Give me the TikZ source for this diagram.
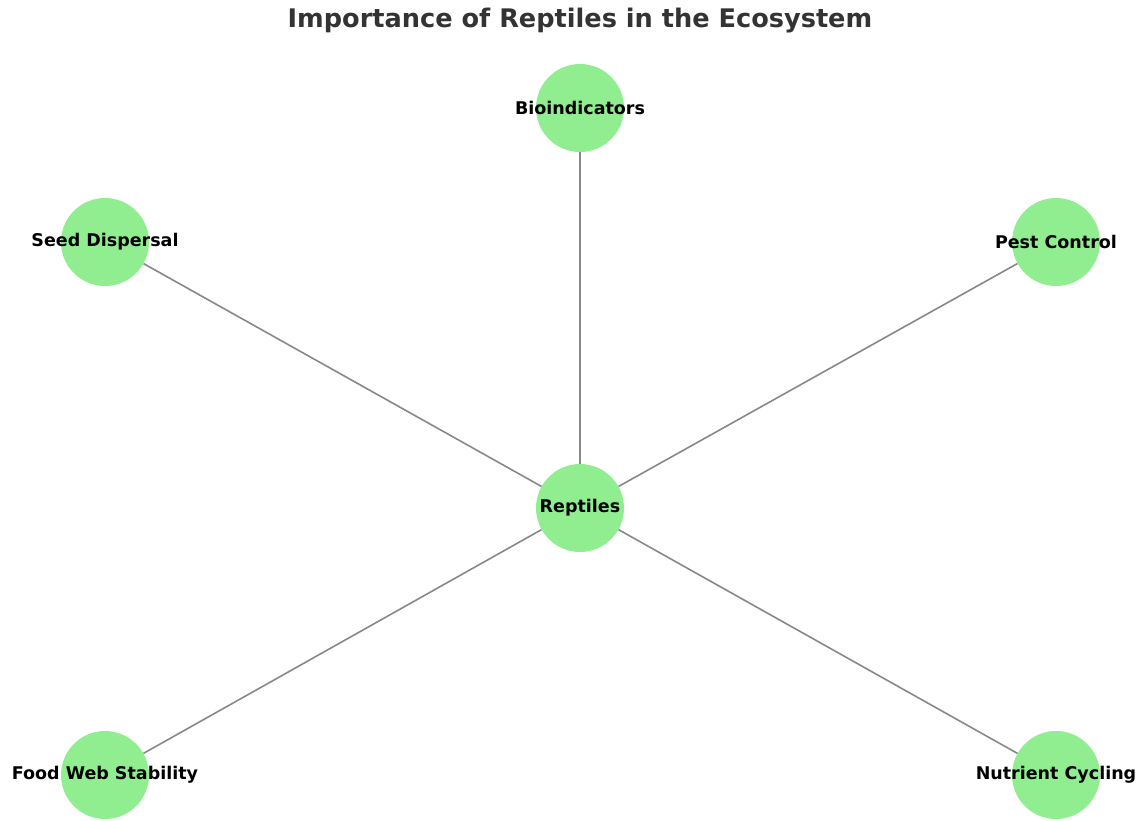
\documentclass[tikz,border=0pt]{standalone}
\usepackage{fontspec}
\setmainfont{DejaVu Sans}
\begin{document}
\begin{tikzpicture}[x=1pt,y=-1pt,
  topic/.style={circle,fill=nodegreen,minimum size=88pt,inner sep=0pt,font=\fontsize{17.5}{19}\selectfont\bfseries,text=black},
  lbl/.style={topic,fill=none},
  link/.style={draw=edgegray,line width=1.6pt}]
\definecolor{nodegreen}{HTML}{90EE90}
\definecolor{edgegray}{HTML}{888888}
\definecolor{titlegray}{HTML}{333333}
\useasboundingbox (0,0) rectangle (1141,820);
\node[font=\fontsize{25.6}{28}\selectfont\bfseries,text=titlegray] (title) at (580,21) {Importance of Reptiles in the Ecosystem};
\node[topic] (rep) at (580,508) {};
\node[topic] (bio) at (580,108) {};
\node[topic] (seed) at (105,242) {};
\node[topic] (pest) at (1056,242) {};
\node[topic] (food) at (105,775) {};
\node[topic] (nut) at (1056,775) {};
\foreach \n in {bio,seed,pest,food,nut}{
  \draw[link] (rep) -- (\n);
}
\node[lbl] at (rep) {Reptiles};
\node[lbl] at (bio) {Bioindicators};
\node[lbl] at (seed) {Seed Dispersal};
\node[lbl] at (pest) {Pest Control};
\node[lbl] at (food) {Food Web Stability};
\node[lbl] at (nut) {Nutrient Cycling};
\end{tikzpicture}
\end{document}
